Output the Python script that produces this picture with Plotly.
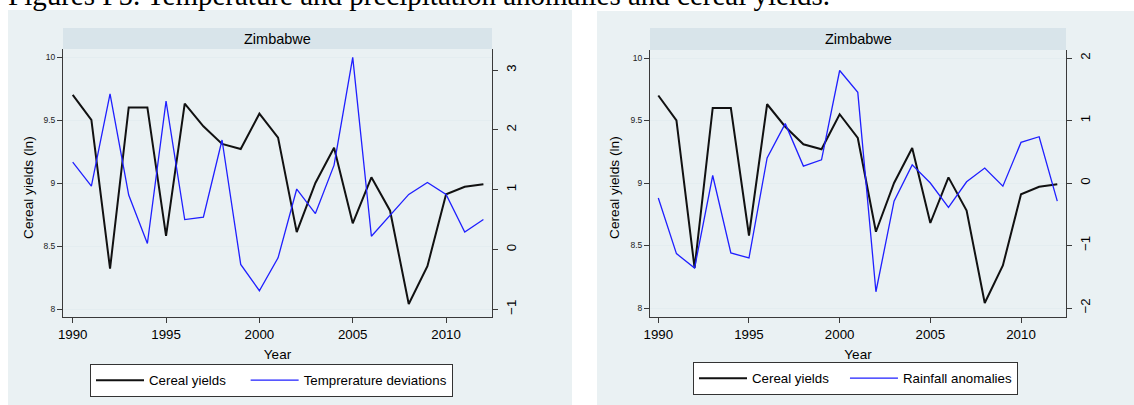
import plotly.graph_objects as go

W, H = 1134, 405

years = list(range(1990, 2013))
cereal_yields = [9.70, 9.50, 8.32, 9.60, 9.60, 8.58, 9.63, 9.45, 9.31, 9.27,
                 9.55, 9.36, 8.61, 9.00, 9.28, 8.68, 9.045, 8.78, 8.04, 8.34,
                 8.91, 8.97, 8.99]
temp_dev = [1.46, 1.06, 2.60, 0.91, 0.10, 2.48, 0.50, 0.54, 1.83, -0.25,
            -0.69, -0.14, 1.01, 0.60, 1.41, 3.21, 0.22, 0.57, 0.92, 1.12,
            0.92, 0.29, 0.50]
rain_anom = [-0.24, -1.13, -1.36, 0.12, -1.12, -1.20, 0.40, 0.95, 0.27, 0.37,
             1.80, 1.45, -1.74, -0.29, 0.29, 0.00, -0.39, 0.02, 0.24, -0.05,
             0.65, 0.74, -0.29]

x_ticks = [1990, 1995, 2000, 2005, 2010]
left_ticks = [8, 8.5, 9, 9.5, 10]
left_ticktext = ["8", "8.5", "9", "9.5", "10"]
temp_ticks = [-1, 0, 1, 2, 3]
rain_ticks = [-2, -1, 0, 1, 2]

country = "Zimbabwe"
title_text = "Figures F5. Temperature and precipitation anomalies and cereal yields."
NB = "\u00a0"


def fx(px):
    return px / W


def fy(py):
    return 1 - py / H


SANS = "Liberation Sans, Arial, sans-serif"
PANEL_BG = "#EAF1F3"
STRIP_BG = "#D8E4EA"
AXIS_C = "#3a3a3a"
GRID_C = "#E4EDF0"
BLUE = "#1f1fff"
BLACK = "#111111"

fig = go.Figure()

# Left panel
fig.add_trace(go.Scatter(x=years, y=cereal_yields, mode="lines", name="Cereal yields" + NB * 4,
                         line=dict(color=BLACK, width=2), xaxis="x", yaxis="y",
                         legend="legend"))
fig.add_trace(go.Scatter(x=years, y=temp_dev, mode="lines", name="Temprerature deviations",
                         line=dict(color=BLUE, width=1.3), xaxis="x", yaxis="y2",
                         legend="legend"))
# Right panel
fig.add_trace(go.Scatter(x=years, y=cereal_yields, mode="lines", name="Cereal yields" + NB * 3,
                         line=dict(color=BLACK, width=2), xaxis="x2", yaxis="y3",
                         legend="legend2"))
fig.add_trace(go.Scatter(x=years, y=rain_anom, mode="lines", name="Rainfall anomalies",
                         line=dict(color=BLUE, width=1.3), xaxis="x2", yaxis="y4",
                         legend="legend2"))

tickfont_big = dict(family=SANS, size=13.3, color="black")
tickfont_small = dict(family=SANS, size=8.5, color="#222")

common_x = dict(showline=True, linecolor=AXIS_C, linewidth=1, ticks="outside", ticklen=5,
                tickcolor=AXIS_C, tickvals=x_ticks, tickfont=tickfont_big, showgrid=False,
                zeroline=False, automargin=False,
                title=dict(text="Year", font=dict(family=SANS, size=13.5, color="black"),
                           standoff=8))
common_yl = dict(showline=True, linecolor=AXIS_C, linewidth=1, ticks="outside", ticklen=5,
                 tickcolor=AXIS_C, tickvals=left_ticks, ticktext=left_ticktext,
                 tickfont=tickfont_small, showgrid=True, gridcolor=GRID_C, gridwidth=1.2,
                 zeroline=False, automargin=False)
common_yr = dict(showline=True, linecolor=AXIS_C, linewidth=1, ticks="outside", ticklen=5,
                 tickcolor=AXIS_C, tickfont=tickfont_big, tickangle=-90, showgrid=False,
                 zeroline=False, automargin=False, side="right", ticklabelstandoff=2)

legend_common = dict(orientation="h", xanchor="left", yanchor="top", bgcolor="white",
                     bordercolor="#333", borderwidth=1,
                     font=dict(family=SANS, size=13.3, color="black"),
                     itemwidth=48)

fig.update_layout(
    template="none",
    width=W, height=H,
    margin=dict(l=0, r=0, t=0, b=0),
    paper_bgcolor="white",
    plot_bgcolor="white",
    showlegend=True,
    xaxis=dict(domain=[fx(63), fx(492)], range=[1989.48, 2012.46], anchor="y", **common_x),
    yaxis=dict(domain=[fy(317), fy(49)], range=[7.9365, 10.0635], anchor="x", **common_yl),
    yaxis2=dict(range=[-1.129, 3.351], overlaying="y", anchor="x", tickvals=temp_ticks,
                **common_yr),
    xaxis2=dict(domain=[fx(650), fx(1066)], range=[1989.542, 2012.481], anchor="y3", **common_x),
    yaxis3=dict(domain=[fy(317), fy(50)], range=[7.928, 10.064], anchor="x2", **common_yl),
    yaxis4=dict(range=[-2.144, 2.128], overlaying="y3", anchor="x2", tickvals=rain_ticks,
                **common_yr),
    legend=dict(x=fx(90), y=fy(364), **legend_common),
    legend2=dict(x=fx(693), y=fy(362), **legend_common),
)

shapes = []
# panel backgrounds
shapes.append(dict(type="rect", xref="paper", yref="paper", x0=fx(8), x1=fx(572),
                   y0=fy(406), y1=fy(10), fillcolor=PANEL_BG, line=dict(width=0), layer="below"))
shapes.append(dict(type="rect", xref="paper", yref="paper", x0=fx(597), x1=fx(1135),
                   y0=fy(406), y1=fy(11), fillcolor=PANEL_BG, line=dict(width=0), layer="below"))
# header strips
shapes.append(dict(type="rect", xref="paper", yref="paper", x0=fx(63), x1=fx(492),
                   y0=fy(49), y1=fy(28), fillcolor=STRIP_BG, line=dict(width=0), layer="below"))
shapes.append(dict(type="rect", xref="paper", yref="paper", x0=fx(650), x1=fx(1066),
                   y0=fy(50), y1=fy(28), fillcolor=STRIP_BG, line=dict(width=0), layer="below"))
fig.update_layout(shapes=shapes)

annotations = [
    dict(text=country, x=fx(277.5), y=fy(38.5), xref="paper", yref="paper",
         xanchor="center", yanchor="middle", showarrow=False,
         font=dict(family=SANS, size=14.5, color="black")),
    dict(text=country, x=fx(858), y=fy(39), xref="paper", yref="paper",
         xanchor="center", yanchor="middle", showarrow=False,
         font=dict(family=SANS, size=14.5, color="black")),
    dict(text="Cereal yields (ln)", x=fx(29), y=fy(188), xref="paper", yref="paper",
         xanchor="center", yanchor="middle", showarrow=False, textangle=-90,
         font=dict(family=SANS, size=13.7, color="black")),
    dict(text="Cereal yields (ln)", x=fx(615), y=fy(188), xref="paper", yref="paper",
         xanchor="center", yanchor="middle", showarrow=False, textangle=-90,
         font=dict(family=SANS, size=13.7, color="black")),
    dict(text=title_text, x=fx(6), y=fy(-5), xref="paper", yref="paper",
         xanchor="left", yanchor="middle", showarrow=False,
         font=dict(family="Liberation Serif, Times New Roman, serif", size=29, color="black")),
]
fig.update_layout(annotations=annotations)

fig.write_html("out.html")
